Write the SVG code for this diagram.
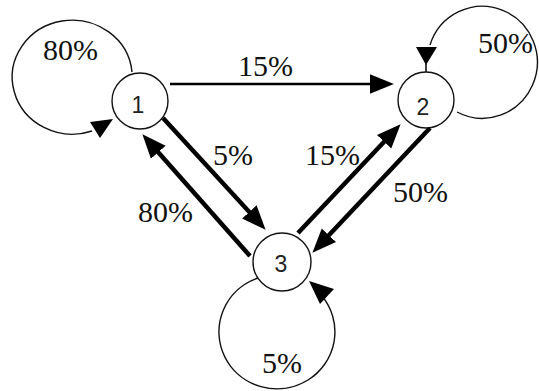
<svg xmlns="http://www.w3.org/2000/svg" width="539" height="391" viewBox="0 0 539 391">
<defs>
<style>
.node{fill:#fff;stroke:#111;stroke-width:1.4}
.nl{font-family:"Liberation Sans",Arial,sans-serif;font-size:23px;fill:#222;text-anchor:middle}
.lbl{font-family:"Liberation Serif","Times New Roman","DejaVu Serif",serif;font-size:30px;fill:#111}
.loop{fill:none;stroke:#111;stroke-width:1.4}
.thick{fill:none;stroke:#000;stroke-width:4.5}
.thin{fill:none;stroke:#000;stroke-width:2.5}
.head{fill:#000}
</style>
<marker id="arr" markerUnits="userSpaceOnUse" markerWidth="24" markerHeight="20" viewBox="0 0 22 18" refX="12" refY="9" orient="auto">
<path d="M0,0 L22,9 L0,18 z" fill="#000"/>
</marker>
</defs>
<rect width="539" height="391" fill="#fff"/>
<g id="connectors">
<path class="loop" d="M132,72 A60,57 0 1 0 92,131"/>
<polygon class="head" points="90,122 113,119 100,138"/>
<path class="loop" d="M457,112 A55,56 0 1 0 430,45"/>
<polygon class="head" points="416,47 437,47 426,65"/>
<line x1="426" y1="64" x2="426" y2="73" stroke="#000" stroke-width="1.5"/>
<path class="loop" d="M258,278 A58,57 0 1 0 322,296"/>
<polygon class="head" points="309,281 334,289 320,304"/>
<line class="thin" x1="170" y1="84" x2="383" y2="84" marker-end="url(#arr)"/>
<line class="thick" x1="163" y1="118" x2="258.2" y2="221.6" marker-end="url(#arr)"/>
<line class="thick" x1="250" y1="256" x2="149.6" y2="142.5" marker-end="url(#arr)"/>
<line class="thick" x1="298" y1="233" x2="393.1" y2="132.3" marker-end="url(#arr)"/>
<line class="thick" x1="430" y1="128" x2="319.9" y2="244.7" marker-end="url(#arr)"/>
</g>
<g id="node1">
<circle class="node" cx="140" cy="101" r="28"/>
<text class="nl" x="138" y="113">1</text>
</g>
<g id="node2">
<circle class="node" cx="426" cy="100" r="28"/>
<text class="nl" x="423" y="115">2</text>
</g>
<g id="node3">
<circle class="node" cx="282" cy="262" r="29"/>
<text class="nl" x="281" y="272">3</text>
</g>
<g id="labels">
<text class="lbl" x="43" y="60">80%</text>
<text class="lbl" x="238" y="76">15%</text>
<text class="lbl" x="478" y="53">50%</text>
<text class="lbl" x="213" y="165">5%</text>
<text class="lbl" x="305" y="165">15%</text>
<text class="lbl" x="138" y="222">80%</text>
<text class="lbl" x="393" y="202">50%</text>
<text class="lbl" x="262" y="373">5%</text>
</g>
</svg>
